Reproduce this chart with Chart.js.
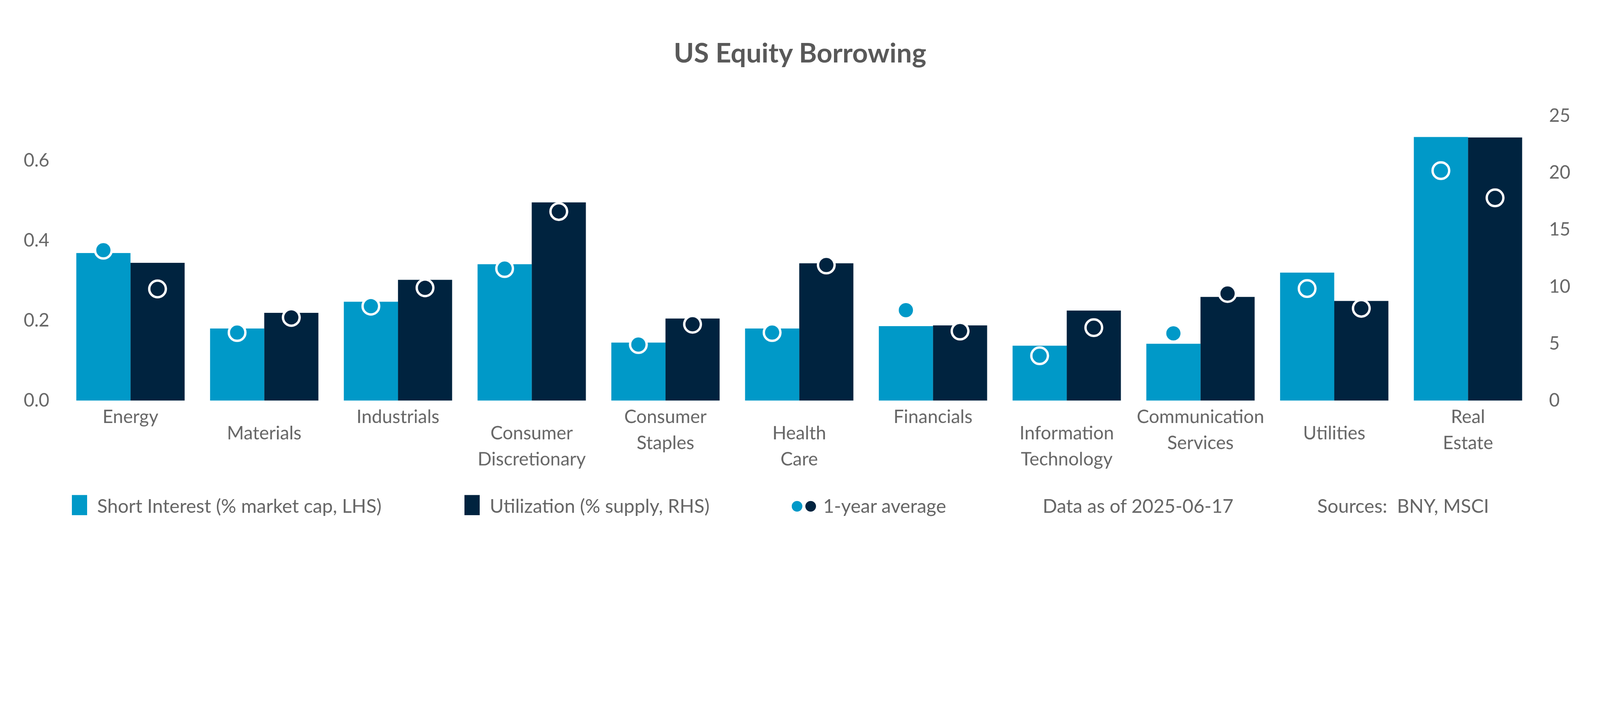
<!DOCTYPE html>
<html><head><meta charset="utf-8">
<script src="https://cdn.jsdelivr.net/npm/chart.js@4"></script>
<style>
html,body{margin:0;padding:0;background:#fff;overflow:hidden;}
#wrap{position:relative;width:5400px;height:1800px;font-family:Lato,"Open Sans",sans-serif;color:#666;transform-origin:0 0;}
#title{position:absolute;top:120px;width:100%;text-align:center;font-weight:bold;font-size:92px;color:#595959;}
#c{position:absolute;left:0;top:0;}
.lg{position:absolute;top:1668px;font-size:64px;color:#666;white-space:nowrap;}
.sq{display:inline-block;width:52px;height:68px;vertical-align:-8px;margin-right:34px;}
.dot{display:inline-block;width:36px;height:36px;border-radius:50%;vertical-align:4px;margin-right:10px;}
</style></head><body>
<div id="wrap">
<canvas id="c" width="5400" height="1800"></canvas>
<div id="title">US Equity Borrowing</div>
<div class="lg" style="left:242px"><span class="sq" style="background:#0099C8"></span>Short Interest (% market cap, LHS)</div>
<div class="lg" style="left:1567px"><span class="sq" style="background:#00233F"></span>Utilization (% supply, RHS)</div>
<div class="lg" style="left:2672px"><span class="dot" style="background:#0099C8"></span><span class="dot" style="background:#00233F;margin-right:24px"></span>1-year average</div>
<div class="lg" style="left:3519px">Data as of 2025-06-17</div>
<div class="lg" style="left:4446px">Sources:&nbsp; BNY, MSCI</div>
</div>
<script>
const categories = [["Energy"],["Materials"],["Industrials"],["Consumer","Discretionary"],["Consumer","Staples"],["Health","Care"],["Financials"],["Information","Technology"],["Communication","Services"],["Utilities"],["Real","Estate"]];
const shortInterest = [0.369,0.180,0.247,0.341,0.145,0.180,0.186,0.137,0.142,0.320,0.659];
const shortAvg = [0.376,0.170,0.236,0.330,0.140,0.170,0.226,0.112,0.168,0.280,0.575];
const utilization = [12.1,7.7,10.6,17.4,7.2,12.05,6.6,7.9,9.1,8.75,23.1];
const utilAvg = [9.8,7.3,9.9,16.6,6.7,11.9,6.1,6.4,9.4,8.1,17.8];
const leftTicks = [0,0.2,0.4,0.6];
const rightTicks = [0,5,10,15,20,25];

const sc = Math.min(window.innerWidth/5400, window.innerHeight/1800);
document.getElementById('wrap').style.transform = 'scale(' + sc + ')';

const LIGHT='#0099C8', DARK='#00233F', GREY='#666666';
const labelPlugin={id:'lbl',afterDraw(ch){
  const c=ch.ctx, x=ch.scales.x, base=ch.chartArea.bottom;
  c.save();c.fillStyle=GREY;c.font='62px Lato, "Open Sans", sans-serif';c.textAlign='center';c.textBaseline='alphabetic';
  categories.forEach((l,i)=>{const px=x.getPixelForValue(i);const y0=base+76+(i%2?55:0);
    l.forEach((t,j)=>c.fillText(t,px,y0+j*88));});
  c.restore();}};
const dotPlugin={id:'dots',afterDatasetsDraw(ch){
  const c=ch.ctx;
  const sets=[[0,shortAvg,'yL',LIGHT],[1,utilAvg,'yR',DARK]];
  c.save();
  sets.forEach(([di,vals,ax,col])=>{
    const meta=ch.getDatasetMeta(di), s=ch.scales[ax];
    vals.forEach((v,i)=>{const px=meta.data[i].x, py=s.getPixelForValue(v);
      c.beginPath();c.arc(px,py,28,0,Math.PI*2);c.fillStyle=col;c.fill();
      c.lineWidth=8;c.strokeStyle='#fff';c.stroke();});
  });
  c.restore();}};
new Chart(document.getElementById('c'),{
  type:'bar',
  data:{labels:categories.map(l=>l.join(' ')),datasets:[
    {data:shortInterest,yAxisID:'yL',backgroundColor:LIGHT,categoryPercentage:0.81,barPercentage:1},
    {data:utilization,yAxisID:'yR',backgroundColor:DARK,categoryPercentage:0.81,barPercentage:1}
  ]},
  options:{responsive:false,animation:false,
    layout:{padding:{left:40,right:60,top:391,bottom:440}},
    plugins:{legend:{display:false},tooltip:{enabled:false}},
    scales:{
      x:{ticks:{display:false},grid:{display:false},border:{display:false}},
      yL:{position:'left',min:0,max:0.712,afterBuildTicks:a=>{a.ticks=leftTicks.map(v=>({value:v}));},
        ticks:{color:GREY,font:{size:62,family:'Lato'},padding:40,callback:v=>v.toFixed(1)},grid:{display:false},border:{display:false}},
      yR:{position:'right',min:0,max:25,afterBuildTicks:a=>{a.ticks=rightTicks.map(v=>({value:v}));},
        ticks:{color:GREY,font:{size:62,family:'Lato'},padding:40},grid:{display:false},border:{display:false}}
    }},
  plugins:[labelPlugin,dotPlugin]
});
</script></body></html>
